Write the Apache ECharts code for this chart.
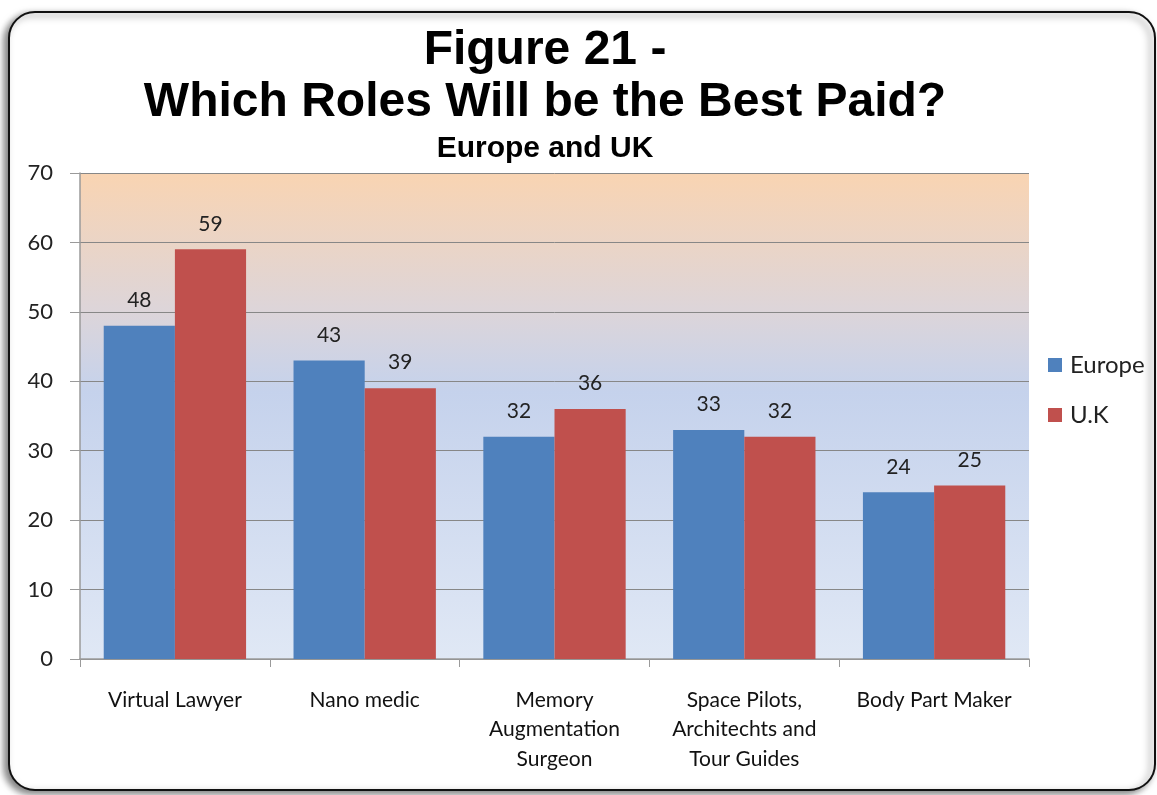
<!DOCTYPE html>
<html>
<head>
<meta charset="utf-8">
<script src="https://cdn.jsdelivr.net/npm/echarts@6/dist/echarts.min.js"></script>
<style>
  html, body { margin: 0; padding: 0; background: #fff; }
  #chart-container { width: 1157px; height: 795px; }
</style>
</head>
<body>
<div id="chart-container"></div>
<script>
// chart data
const categories = ['Virtual Lawyer', 'Nano medic', 'Memory\nAugmentation\nSurgeon', 'Space Pilots,\nArchitechts and\nTour Guides', 'Body Part Maker'];
const europe = [48, 43, 32, 33, 24];
const uk = [59, 39, 36, 32, 25];
const yTicks = { min: 0, max: 70, interval: 10 };

const labelFont = 'Lato, "Open Sans", sans-serif';

const chart = echarts.init(document.getElementById('chart-container'));
chart.setOption({
    animation: false,
    graphic: [{
        type: 'rect',
        z: -10,
        shape: { x: 9, y: 12, width: 1146, height: 778, r: 26 },
        style: {
            fill: '#fff',
            stroke: '#111',
            lineWidth: 2,
            shadowColor: 'rgba(0,0,0,0.5)',
            shadowBlur: 7,
            shadowOffsetX: -4,
            shadowOffsetY: 3
        }
    }],
    title: [
        {
            text: 'Figure 21 -\nWhich Roles Will be the Best Paid?',
            left: 540,
            top: 20,
            textAlign: 'center',
            textStyle: {
                fontFamily: '"Liberation Sans", Arial, sans-serif',
                fontSize: 48,
                fontWeight: 'bold',
                lineHeight: 52,
                color: '#000'
            }
        },
        {
            text: 'Europe and UK',
            left: 540,
            top: 129,
            textAlign: 'center',
            textStyle: {
                fontFamily: '"Liberation Sans", Arial, sans-serif',
                fontSize: 30,
                fontWeight: 'bold',
                color: '#000'
            }
        }
    ],
    legend: {
        orient: 'vertical',
        left: 1048,
        top: 353,
        padding: 0,
        itemWidth: 14,
        itemHeight: 14,
        itemGap: 26,
        icon: 'rect',
        textStyle: { fontFamily: labelFont, fontSize: 24, color: '#222', padding: [0, 0, 0, 3] },
        data: ['Europe', 'U.K']
    },
    grid: {
        left: 80,
        right: 128,
        top: 173,
        bottom: 136,
        show: true,
        borderWidth: 0,
        backgroundColor: new echarts.graphic.LinearGradient(0, 0, 0, 1, [
            { offset: 0, color: '#f9d4b2' },
            { offset: 0.28, color: '#ddd5d9' },
            { offset: 0.45, color: '#c5d2ec' },
            { offset: 1, color: '#e0e8f5' }
        ])
    },
    xAxis: {
        type: 'category',
        data: categories,
        axisLine: { lineStyle: { color: '#9a9a9a', width: 1.5 } },
        axisTick: { show: true, length: 8, lineStyle: { color: '#9a9a9a' } },
        axisLabel: {
            margin: 26,
            fontFamily: labelFont,
            fontSize: 21,
            lineHeight: 29.5,
            color: '#111',
            interval: 0
        }
    },
    yAxis: {
        type: 'value',
        min: yTicks.min,
        max: yTicks.max,
        interval: yTicks.interval,
        axisLine: { show: true, lineStyle: { color: '#9a9a9a', width: 1.5 } },
        axisTick: { show: true, length: 10, lineStyle: { color: '#9a9a9a' } },
        splitLine: { lineStyle: { color: '#878787', width: 1 } },
        axisLabel: {
            margin: 27,
            fontFamily: labelFont,
            fontSize: 22,
            color: '#222'
        }
    },
    series: [
        {
            name: 'Europe',
            type: 'bar',
            data: europe,
            barGap: '0%',
            barCategoryGap: '25%',
            itemStyle: { color: '#4f81bd' },
            label: {
                show: true,
                position: 'top',
                distance: 15,
                fontFamily: labelFont,
                fontSize: 21,
                color: '#222'
            }
        },
        {
            name: 'U.K',
            type: 'bar',
            data: uk,
            barGap: '0%',
            barCategoryGap: '25%',
            itemStyle: { color: '#c0504d' },
            label: {
                show: true,
                position: 'top',
                distance: 15,
                fontFamily: labelFont,
                fontSize: 21,
                color: '#222'
            }
        }
    ]
});
</script>
</body>
</html>
